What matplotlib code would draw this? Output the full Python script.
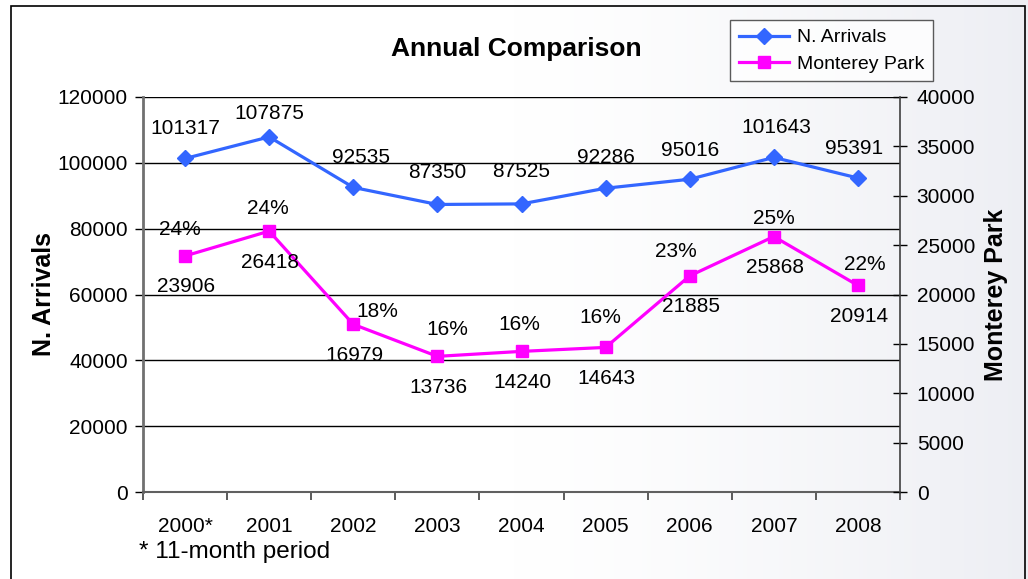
import numpy as np
import matplotlib
matplotlib.use('Agg')
import matplotlib.pyplot as plt
from matplotlib.patches import Rectangle

# data
years = ['2000*', '2001', '2002', '2003', '2004', '2005', '2006', '2007', '2008']
arrivals = [101317, 107875, 92535, 87350, 87525, 92286, 95016, 101643, 95391]
monterey = [23906, 26418, 16979, 13736, 14240, 14643, 21885, 25868, 20914]
shares = ['24%', '24%', '18%', '16%', '16%', '16%', '23%', '25%', '22%']

plt.rcParams['font.family'] = ['Liberation Sans', 'DejaVu Sans']

fig = plt.figure(figsize=(10.28, 5.79), dpi=100)

# soft background gradient
bg = fig.add_axes([0, 0, 1, 1], zorder=-10)
grad = np.linspace(0, 1, 256)
grad = np.clip((grad - 0.5) / 0.5, 0, 1) ** 1.3
cols = np.ones((1, 256, 3))
for k, c in enumerate([0.93, 0.935, 0.955]):
    cols[0, :, k] = 1 - grad * (1 - c)
bg.imshow(cols, aspect='auto', extent=[0, 1, 0, 1])
bg.axis('off')
fig.patches.append(Rectangle((11 / 1028, -0.05), 1014 / 1028, 1.05 - 6 / 579,
                             transform=fig.transFigure, fill=False,
                             edgecolor='black', lw=1.2, zorder=5))

ax = fig.add_axes([143 / 1028, 1 - 492 / 579, 757 / 1028, 395 / 579])
ax.patch.set_alpha(0)
x = np.arange(len(years))

blue = '#3366ff'
mag = '#ff00ff'
fs = 15

l1, = ax.plot(x, arrivals, color=blue, lw=2.3, marker='D', ms=8,
              label='N. Arrivals', zorder=4)
ax.set_ylim(0, 120000)
ax.set_xlim(-0.5, len(years) - 0.5)
ax.set_yticks(range(0, 120001, 20000))
ax.yaxis.grid(True, color='black', lw=1)
ax.set_axisbelow(True)

ax2 = ax.twinx()
l2, = ax2.plot(x, monterey, color=mag, lw=2.3, marker='s', ms=8,
               label='Monterey Park', zorder=4)
ax2.set_ylim(0, 40000)
ax2.set_yticks(range(0, 40001, 5000))

# spines and ticks
for a in (ax, ax2):
    a.spines['top'].set_visible(False)
ax.spines['left'].set_color('#707070')
ax.spines['left'].set_linewidth(2)
ax.spines['bottom'].set_color('#606060')
ax.spines['bottom'].set_linewidth(1.5)
ax.spines['right'].set_visible(False)
ax2.spines['left'].set_visible(False)
ax2.spines['bottom'].set_visible(False)
ax2.spines['right'].set_color('#404040')
ax2.spines['right'].set_linewidth(1.2)

ax.set_xticks(x)
ax.set_xticklabels(years)
ax.set_xticks(np.arange(-0.5, len(years)), minor=True)
ax.tick_params(axis='x', which='major', length=0, pad=18, labelsize=fs)
ax.tick_params(axis='x', which='minor', length=6, width=1.2, color='#404040', direction='out')
ax.tick_params(axis='y', length=6, width=1, direction='out', labelsize=fs, pad=5)
ax2.tick_params(axis='y', length=10, width=1, direction='inout', labelsize=fs, pad=7)

ax.set_ylabel('N. Arrivals', fontsize=18, fontweight='bold', labelpad=1)
ax2.set_ylabel('Monterey Park', fontsize=18, fontweight='bold', labelpad=6)

# data labels (pixel offsets)
arr_off = [(0, 30), (0, 23), (8, 30), (0, 32), (0, 32), (0, 31), (0, 29), (2, 30), (-4, 30)]
for i, v in enumerate(arrivals):
    ax.annotate(str(v), (x[i], v), textcoords='offset pixels', xytext=arr_off[i],
                ha='center', va='center', fontsize=fs, zorder=6)

pct_off = [(-5, 26), (-1, 23), (24, 13), (10, 27), (-2, 27), (-5, 30), (-14, 24), (0, 18), (7, 21)]
for i, v in enumerate(monterey):
    ax2.annotate(shares[i], (x[i], v), textcoords='offset pixels', xytext=pct_off[i],
                 ha='center', va='center', fontsize=fs, zorder=6)
    ax2.annotate(str(v), (x[i], v), textcoords='offset pixels', xytext=(1, -31),
                 ha='center', va='center', fontsize=fs, zorder=6)

fig.text(516 / 1028, 1 - 49 / 579, 'Annual Comparison', ha='center', va='center',
         fontsize=19, fontweight='bold')
fig.text(139 / 1028, 1 - 552 / 579, '* 11-month period', ha='left', va='center', fontsize=17.5)

leg = fig.legend([l1, l2], ['N. Arrivals', 'Monterey Park'], loc='upper left',
                 bbox_to_anchor=(730 / 1028, 1 - 20 / 579), fontsize=14,
                 frameon=True, fancybox=False, edgecolor='#333333',
                 borderpad=0.45, handlelength=2.6, labelspacing=0.45, handletextpad=0.4,
                 borderaxespad=0)
leg.get_frame().set_linewidth(1)
leg.get_frame().set_facecolor('white')

plt.savefig('out.png', dpi=100)
